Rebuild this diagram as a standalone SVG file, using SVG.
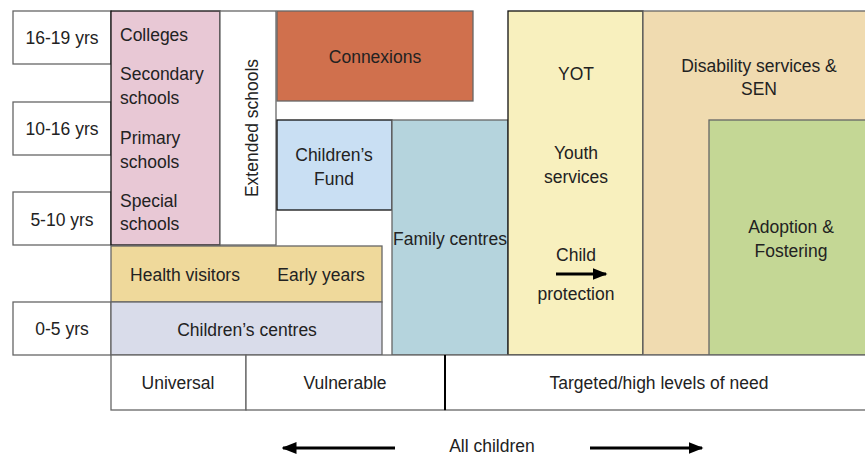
<svg xmlns="http://www.w3.org/2000/svg" width="865" height="455" viewBox="0 0 865 455">
<style>
text{font-family:"Liberation Sans",Arial,sans-serif;font-size:17.5px;fill:#222}
.c{text-anchor:middle}
.b{stroke:#666;stroke-width:1.3}
.k{stroke:#111;stroke-width:1.3}
</style>
<defs>
<marker id="ah" markerWidth="5" markerHeight="4" refX="4.5" refY="2" orient="auto" markerUnits="strokeWidth">
<path d="M0,0 L5,2 L0,4 Z" fill="#000"/>
</marker>
</defs>
<rect width="865" height="455" fill="#fff"/>
<g id="age16-19"><rect class="b" x="13" y="11" width="98" height="53" fill="#fff"/><text class="c" x="62" y="44">16-19 yrs</text></g>
<g id="age10-16"><rect class="b" x="13" y="102" width="98" height="53" fill="#fff"/><text class="c" x="62" y="135">10-16 yrs</text></g>
<g id="age5-10"><rect class="b" x="13" y="192" width="98" height="53" fill="#fff"/><text class="c" x="62" y="226">5-10 yrs</text></g>
<g id="age0-5"><rect class="b" x="13" y="302" width="98" height="53" fill="#fff"/><text class="c" x="62" y="335">0-5 yrs</text></g>
<g id="schools"><rect class="k" x="111" y="11" width="109" height="234" fill="#e8c8d5"/>
<text x="120" y="41">Colleges</text><text x="120" y="80">Secondary</text><text x="120" y="104">schools</text>
<text x="120" y="144">Primary</text><text x="120" y="168">schools</text><text x="120" y="207">Special</text><text x="120" y="230">schools</text></g>
<g id="extended"><rect class="b" x="220" y="11" width="56" height="234" fill="#fff"/><text class="c" transform="translate(258,128) rotate(-90)">Extended schools</text></g>
<g id="connexions"><rect class="b" x="277" y="11" width="196" height="90" fill="#d0704d"/><text class="c" x="375" y="63">Connexions</text></g>
<g id="childrens-fund"><rect class="k" x="277" y="120" width="115" height="90" fill="#c9dff3"/><text class="c" x="334" y="161">Children’s</text><text class="c" x="334" y="185">Fund</text></g>
<g id="family-centres"><rect class="b" x="392" y="120" width="116" height="235" fill="#b5d4dd"/><text class="c" x="450" y="245">Family centres</text></g>
<g id="health-visitors"><rect class="b" x="111" y="246" width="271" height="56" fill="#efd99b"/><text class="c" x="185" y="281">Health visitors</text><text class="c" x="321" y="281">Early years</text></g>
<g id="childrens-centres"><rect class="b" x="111" y="302" width="271" height="53" fill="#d9dcea"/><text class="c" x="247" y="336">Children’s centres</text></g>
<g id="youth"><rect class="k" x="508" y="11" width="135" height="344" fill="#f8f0be"/>
<text class="c" x="576" y="80">YOT</text><text class="c" x="576" y="159">Youth</text><text class="c" x="576" y="183">services</text>
<text class="c" x="576" y="261">Child</text><text class="c" x="576" y="300">protection</text></g>
<g id="disability"><rect class="b" x="643" y="11" width="223" height="344" fill="#f0dbb0"/><text class="c" x="759" y="72">Disability services &amp;</text><text class="c" x="759" y="95">SEN</text></g>
<g id="adoption"><rect class="b" x="709" y="120" width="157" height="235" fill="#c4d795"/><text class="c" x="791" y="233">Adoption &amp;</text><text class="c" x="791" y="257">Fostering</text></g>
<g id="universal"><rect class="b" x="111" y="355" width="135" height="55" fill="#fff"/><text class="c" x="178" y="389">Universal</text></g>
<g id="vulnerable"><rect class="b" x="246" y="355" width="199" height="55" fill="#fff"/><text class="c" x="345" y="389">Vulnerable</text></g>
<g id="targeted"><rect class="b" x="445" y="355" width="421" height="55" fill="#fff"/><text class="c" x="659" y="389">Targeted/high levels of need</text></g>
<g id="all-children"><text class="c" x="492" y="452">All children</text></g>
<g id="connectors" stroke="#000" stroke-width="3" fill="none">
<line x1="395" y1="448" x2="283" y2="448" marker-end="url(#ah)"/>
<line x1="590" y1="448" x2="702" y2="448" marker-end="url(#ah)"/>
<line x1="556" y1="274" x2="606" y2="274" marker-end="url(#ah)"/>
<line x1="445" y1="355" x2="445" y2="410" stroke-width="2"/>
</g>
</svg>
